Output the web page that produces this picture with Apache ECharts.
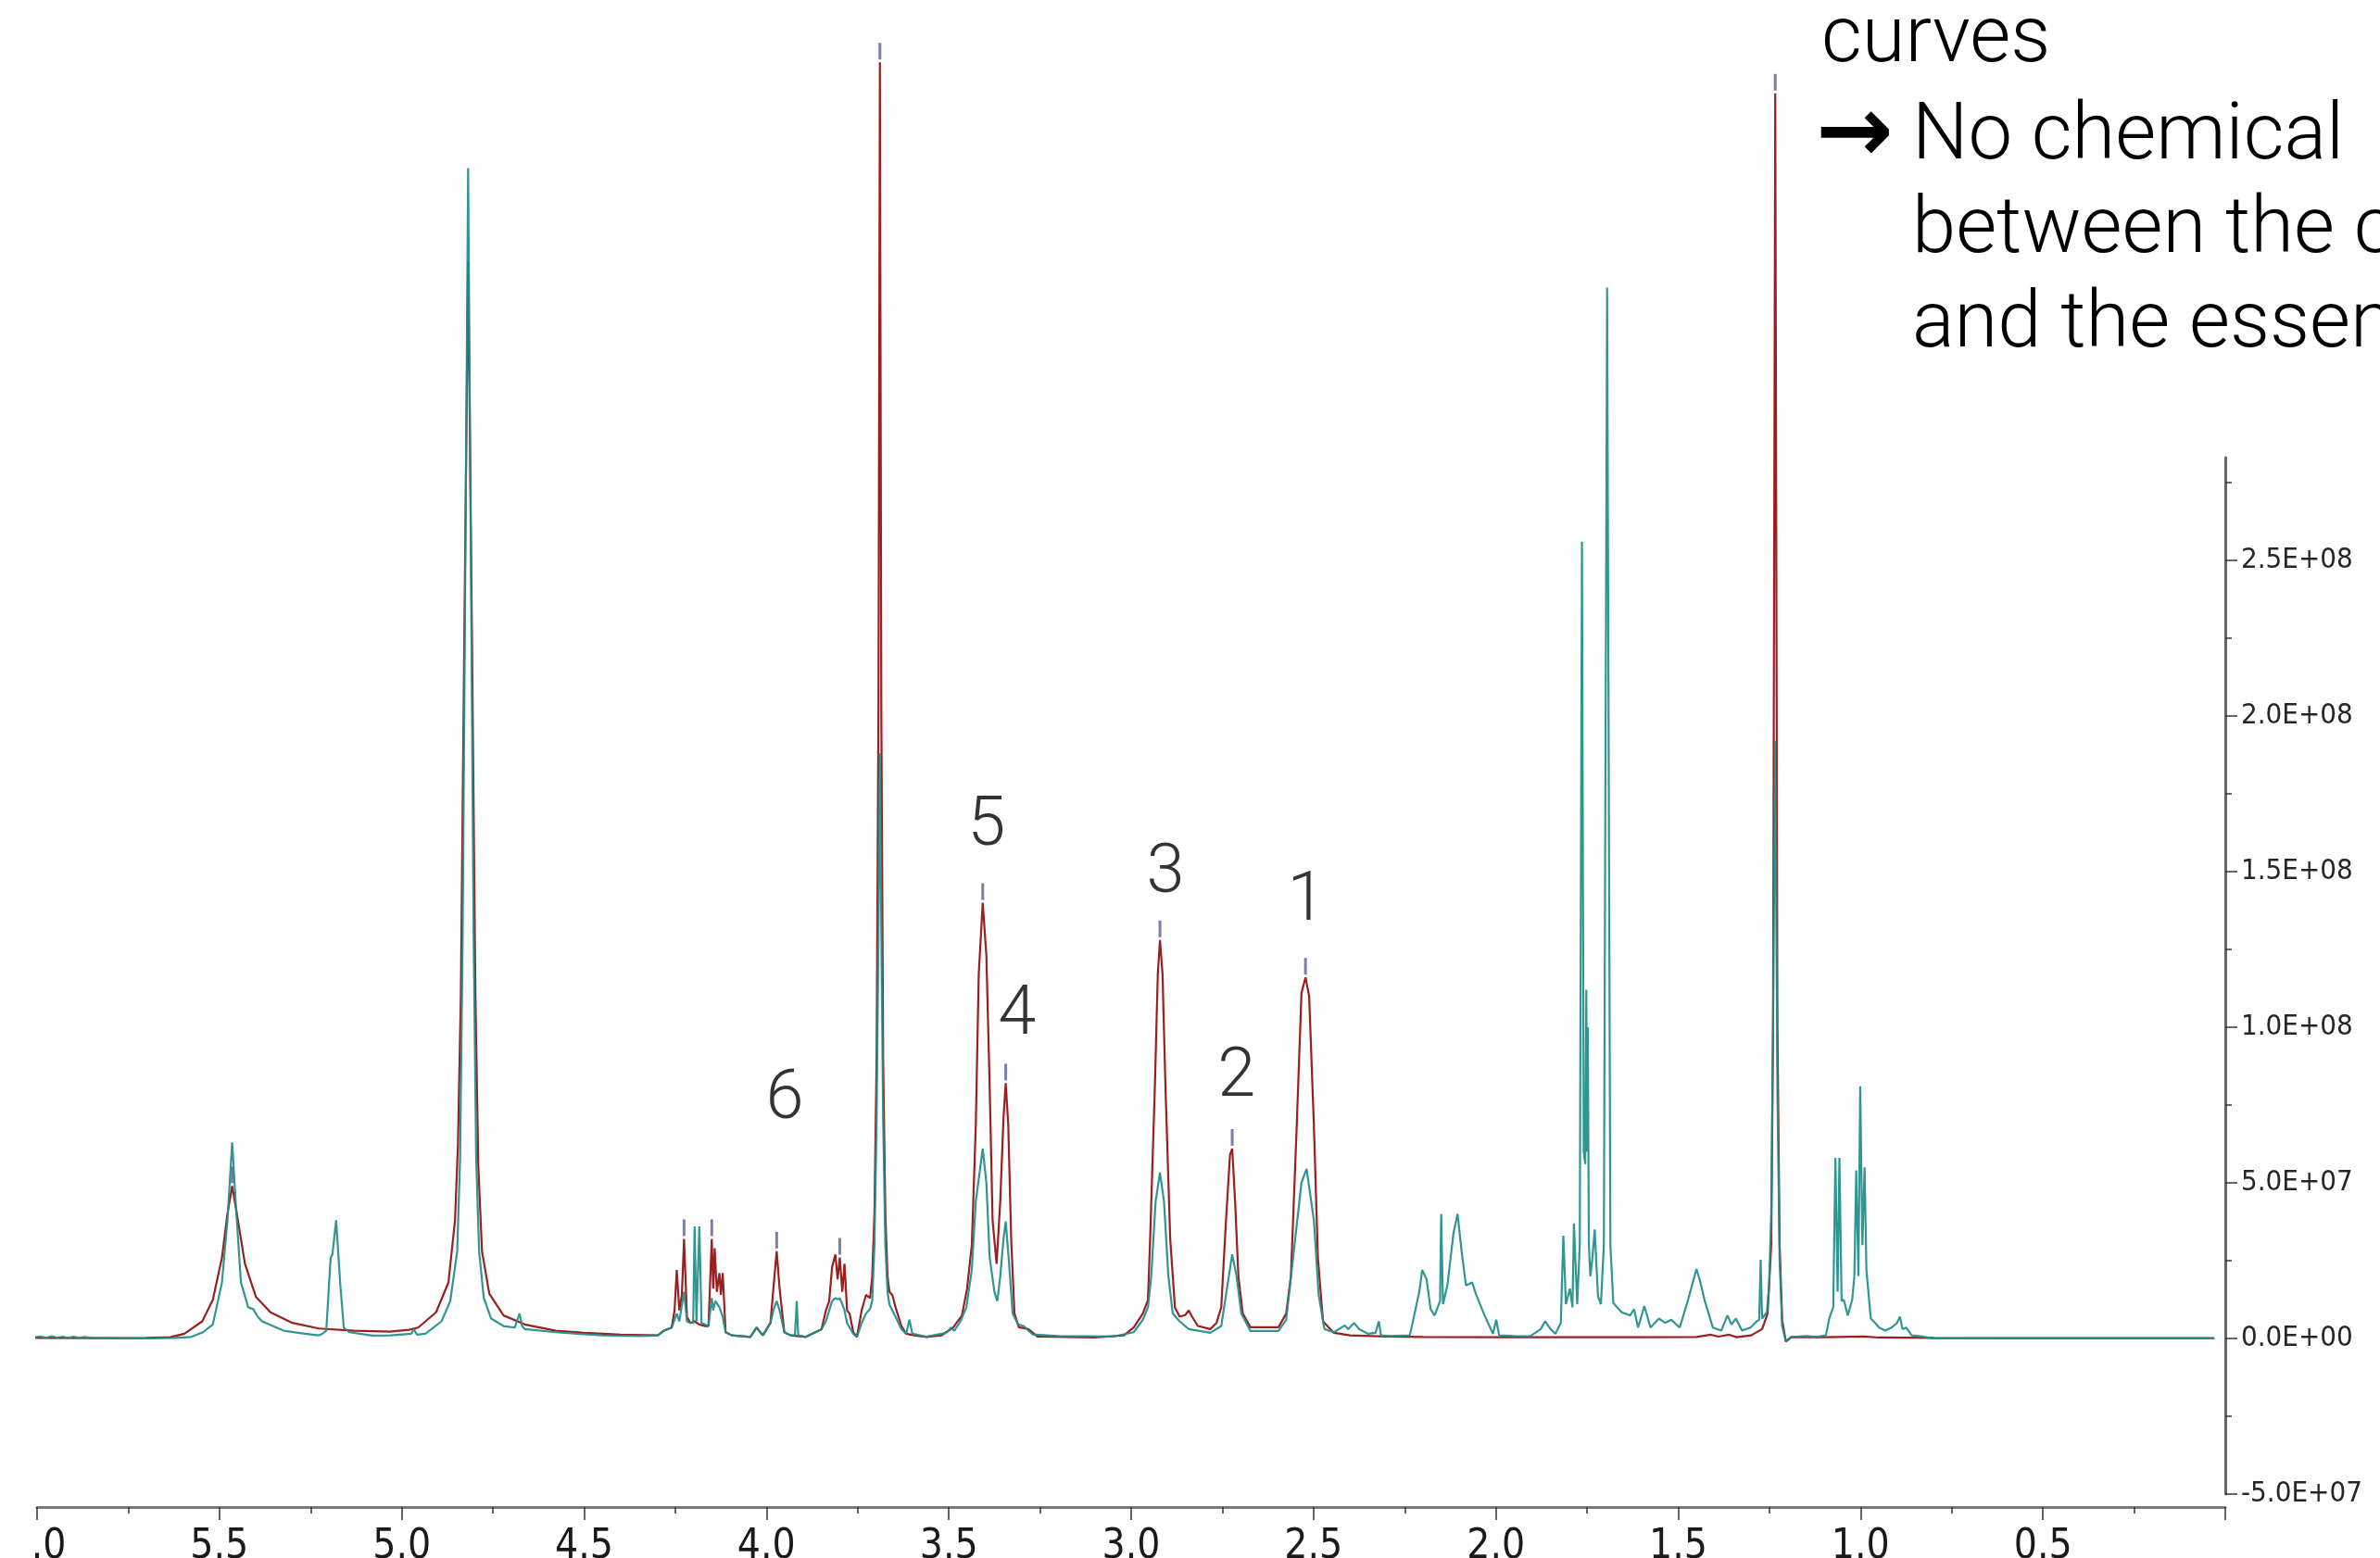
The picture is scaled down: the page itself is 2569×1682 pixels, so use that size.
<!DOCTYPE html>
<html><head><meta charset="utf-8">
<script src="https://cdn.jsdelivr.net/npm/echarts@6/dist/echarts.min.js"></script>
<style>html,body{margin:0;padding:0;background:#fff;}#c{width:2569px;height:1682px;}</style>
</head><body><div id="c"></div>
<script>
// values in units of 1e8, x in ppm
const redSpectrum = [
[6.01,0.002],[5.80,0.001],[5.70,0.002],[5.635,0.004],[5.596,0.015],[5.547,0.055],[5.518,0.124],[5.493,0.26],[5.478,0.40],[5.465,0.49],[5.452,0.40],[5.43,0.24],[5.40,0.134],[5.36,0.084],[5.30,0.05],[5.227,0.032],[5.13,0.025],[5.032,0.022],[4.98,0.028],[4.955,0.035],[4.906,0.084],[4.872,0.18],[4.854,0.38],[4.846,0.62],[4.838,1.1],[4.829,2.2],[4.818,3.46],[4.807,2.2],[4.798,1.1],[4.790,0.55],[4.780,0.28],[4.760,0.144],[4.721,0.074],[4.663,0.045],[4.578,0.025],[4.50,0.018],[4.40,0.012],[4.298,0.01],[4.281,0.025],[4.260,0.035],[4.252,0.09],[4.246,0.22],[4.239,0.09],[4.232,0.14],[4.226,0.32],[4.218,0.07],[4.209,0.05],[4.197,0.055],[4.184,0.045],[4.170,0.04],[4.159,0.04],[4.150,0.32],[4.146,0.16],[4.142,0.29],[4.136,0.15],[4.129,0.21],[4.125,0.14],[4.120,0.21],[4.112,0.02],[4.095,0.01],[4.044,0.005],[4.027,0.035],[4.010,0.01],[3.989,0.05],[3.981,0.16],[3.972,0.28],[3.964,0.16],[3.951,0.02],[3.934,0.01],[3.892,0.005],[3.849,0.03],[3.837,0.09],[3.828,0.12],[3.820,0.23],[3.811,0.27],[3.805,0.19],[3.799,0.26],[3.792,0.15],[3.786,0.24],[3.779,0.09],[3.772,0.08],[3.762,0.02],[3.752,0.005],[3.739,0.09],[3.727,0.14],[3.716,0.13],[3.710,0.20],[3.704,0.40],[3.698,0.9],[3.693,2.0],[3.689,4.10],[3.685,2.0],[3.680,0.9],[3.674,0.4],[3.668,0.2],[3.663,0.15],[3.655,0.14],[3.646,0.10],[3.638,0.07],[3.630,0.04],[3.617,0.015],[3.595,0.01],[3.562,0.005],[3.52,0.01],[3.488,0.035],[3.464,0.074],[3.450,0.16],[3.437,0.30],[3.426,0.685],[3.418,1.17],[3.407,1.40],[3.397,1.23],[3.388,0.81],[3.380,0.38],[3.369,0.24],[3.359,0.44],[3.350,0.71],[3.344,0.82],[3.337,0.685],[3.329,0.32],[3.320,0.08],[3.308,0.036],[3.282,0.03],[3.257,0.006],[3.10,0.003],[3.02,0.01],[2.993,0.035],[2.968,0.08],[2.954,0.124],[2.948,0.32],[2.935,0.81],[2.927,1.17],[2.921,1.28],[2.914,1.17],[2.906,0.81],[2.893,0.32],[2.880,0.10],[2.867,0.07],[2.852,0.075],[2.842,0.09],[2.833,0.07],[2.817,0.04],[2.783,0.03],[2.766,0.05],[2.753,0.10],[2.740,0.38],[2.729,0.59],[2.723,0.61],[2.715,0.44],[2.706,0.20],[2.694,0.08],[2.673,0.036],[2.596,0.036],[2.575,0.08],[2.562,0.20],[2.546,0.685],[2.533,1.11],[2.522,1.16],[2.512,1.10],[2.499,0.685],[2.488,0.26],[2.474,0.055],[2.444,0.018],[2.40,0.01],[2.30,0.006],[2.20,0.005],[2.00,0.004],[1.80,0.004],[1.60,0.004],[1.45,0.005],[1.41,0.012],[1.39,0.006],[1.36,0.012],[1.34,0.004],[1.30,0.01],[1.27,0.03],[1.255,0.08],[1.245,0.3],[1.240,1.0],[1.234,4.0],[1.228,1.0],[1.222,0.3],[1.215,0.06],[1.205,-0.01],[1.19,0.005],[1.10,0.004],[0.99,0.006],[0.95,0.003],[0.80,0.002],[0.50,0.001],[0.03,0.001]
];
const tealSpectrum = [
[6.01,0.003],[5.99,0.006],[5.975,0.002],[5.96,0.007],[5.945,0.003],[5.93,0.006],[5.915,0.002],[5.90,0.006],[5.885,0.002],[5.87,0.005],[5.85,0.002],[5.80,0.001],[5.70,0.0],[5.62,0.002],[5.577,0.005],[5.545,0.02],[5.518,0.045],[5.493,0.18],[5.478,0.38],[5.465,0.63],[5.455,0.43],[5.441,0.18],[5.421,0.10],[5.407,0.094],[5.395,0.07],[5.383,0.055],[5.324,0.025],[5.266,0.015],[5.227,0.01],[5.218,0.015],[5.207,0.025],[5.195,0.26],[5.190,0.27],[5.180,0.38],[5.169,0.18],[5.159,0.035],[5.144,0.02],[5.081,0.009],[5.03,0.01],[4.974,0.015],[4.967,0.03],[4.958,0.012],[4.935,0.015],[4.891,0.055],[4.867,0.12],[4.848,0.28],[4.840,0.58],[4.833,1.3],[4.825,2.6],[4.818,3.76],[4.811,2.6],[4.803,1.3],[4.796,0.58],[4.788,0.28],[4.775,0.13],[4.755,0.064],[4.721,0.04],[4.690,0.035],[4.677,0.08],[4.670,0.04],[4.663,0.03],[4.578,0.02],[4.52,0.015],[4.45,0.01],[4.35,0.008],[4.298,0.01],[4.281,0.025],[4.260,0.035],[4.252,0.06],[4.246,0.08],[4.239,0.055],[4.226,0.15],[4.218,0.055],[4.209,0.05],[4.201,0.05],[4.197,0.36],[4.192,0.055],[4.188,0.055],[4.184,0.36],[4.178,0.05],[4.159,0.04],[4.150,0.13],[4.146,0.09],[4.140,0.12],[4.129,0.10],[4.120,0.07],[4.112,0.02],[4.095,0.01],[4.044,0.005],[4.027,0.035],[4.010,0.01],[3.989,0.05],[3.981,0.09],[3.972,0.12],[3.964,0.09],[3.951,0.02],[3.934,0.01],[3.922,0.01],[3.917,0.12],[3.913,0.01],[3.892,0.005],[3.849,0.03],[3.837,0.055],[3.828,0.09],[3.820,0.12],[3.811,0.13],[3.805,0.125],[3.799,0.13],[3.792,0.11],[3.786,0.09],[3.779,0.05],[3.772,0.035],[3.762,0.015],[3.752,0.005],[3.739,0.05],[3.727,0.08],[3.716,0.095],[3.710,0.12],[3.704,0.30],[3.698,0.7],[3.693,1.3],[3.689,1.88],[3.685,1.3],[3.680,0.7],[3.674,0.3],[3.668,0.15],[3.663,0.11],[3.655,0.09],[3.646,0.07],[3.638,0.05],[3.630,0.03],[3.617,0.015],[3.608,0.06],[3.600,0.015],[3.595,0.01],[3.562,0.006],[3.52,0.015],[3.505,0.02],[3.494,0.035],[3.485,0.025],[3.468,0.055],[3.452,0.10],[3.437,0.22],[3.426,0.44],[3.407,0.61],[3.397,0.50],[3.388,0.26],[3.375,0.15],[3.367,0.12],[3.359,0.20],[3.350,0.32],[3.344,0.376],[3.336,0.26],[3.325,0.08],[3.310,0.045],[3.295,0.04],[3.270,0.013],[3.20,0.008],[3.05,0.006],[2.993,0.02],[2.968,0.06],[2.954,0.10],[2.945,0.20],[2.933,0.44],[2.921,0.533],[2.910,0.44],[2.898,0.20],[2.886,0.08],[2.867,0.055],[2.842,0.03],[2.783,0.018],[2.753,0.04],[2.740,0.14],[2.723,0.27],[2.711,0.20],[2.698,0.08],[2.673,0.024],[2.596,0.024],[2.575,0.06],[2.556,0.26],[2.533,0.50],[2.519,0.545],[2.499,0.38],[2.486,0.14],[2.470,0.03],[2.444,0.02],[2.414,0.042],[2.405,0.03],[2.389,0.05],[2.375,0.03],[2.35,0.015],[2.330,0.018],[2.321,0.055],[2.315,0.01],[2.293,0.008],[2.236,0.01],[2.224,0.074],[2.210,0.15],[2.202,0.22],[2.190,0.19],[2.179,0.094],[2.168,0.074],[2.153,0.12],[2.150,0.40],[2.145,0.11],[2.133,0.17],[2.116,0.34],[2.105,0.40],[2.094,0.28],[2.082,0.17],[2.065,0.18],[2.054,0.14],[2.031,0.074],[2.008,0.015],[1.999,0.06],[1.991,0.01],[1.95,0.008],[1.906,0.007],[1.877,0.03],[1.865,0.055],[1.850,0.03],[1.837,0.015],[1.822,0.05],[1.815,0.33],[1.808,0.11],[1.797,0.16],[1.790,0.10],[1.786,0.37],[1.777,0.11],[1.770,0.3],[1.764,2.56],[1.759,0.6],[1.755,0.56],[1.752,1.12],[1.750,0.6],[1.748,1.0],[1.745,0.3],[1.741,0.20],[1.736,0.25],[1.729,0.35],[1.720,0.135],[1.712,0.11],[1.704,0.3],[1.695,3.376],[1.686,0.3],[1.678,0.114],[1.655,0.084],[1.632,0.074],[1.621,0.094],[1.610,0.035],[1.593,0.104],[1.576,0.035],[1.553,0.064],[1.536,0.05],[1.519,0.06],[1.496,0.035],[1.473,0.124],[1.450,0.223],[1.439,0.18],[1.428,0.124],[1.405,0.035],[1.382,0.025],[1.365,0.074],[1.354,0.045],[1.342,0.064],[1.325,0.025],[1.302,0.035],[1.285,0.055],[1.278,0.06],[1.274,0.253],[1.270,0.064],[1.257,0.084],[1.251,0.164],[1.245,0.4],[1.240,1.0],[1.234,1.92],[1.228,0.8],[1.222,0.25],[1.215,0.04],[1.205,-0.01],[1.19,0.004],[1.15,0.008],[1.12,0.005],[1.095,0.01],[1.086,0.064],[1.075,0.1],[1.069,0.58],[1.063,0.15],[1.058,0.58],[1.052,0.12],[1.046,0.124],[1.035,0.074],[1.023,0.124],[1.017,0.2],[1.012,0.54],[1.006,0.2],[1.001,0.81],[0.995,0.3],[0.989,0.55],[0.984,0.22],[0.972,0.064],[0.960,0.05],[0.949,0.035],[0.932,0.025],[0.915,0.035],[0.900,0.05],[0.892,0.07],[0.885,0.03],[0.875,0.035],[0.86,0.01],[0.840,0.008],[0.824,0.005],[0.80,0.0],[0.50,0.0],[0.03,0.0]
];
const peakMarks = [[5.465,0.49],[4.226,0.32],[4.150,0.32],[3.972,0.28],[3.799,0.26],[3.689,4.10],[3.407,1.40],[3.344,0.82],[2.921,1.28],[2.723,0.61],[2.522,1.16],[1.234,4.0]];
const peakLabels = [[3.397,1.64,'5'],[3.313,1.035,'4'],[2.906,1.49,'3'],[2.711,0.835,'2'],[2.520,1.40,'1'],[3.950,0.762,'6']];
const yMajorTicks = [-0.5,0,0.5,1,1.5,2,2.5];
const yMinorTicks = [-0.25,0.25,0.75,1.25,1.75,2.25,2.75];
const noteLines = ['curves','No chemical','between the c','and the essen'];
const noteArrow = '\u2192';

function sci(v){
  const r = v*1e8;
  if (Math.abs(r) < 1) return '0.0E+00';
  const s = r < 0 ? '-' : '';
  const a = Math.abs(r);
  let e = Math.floor(Math.log10(a) + 1e-9);
  let ms = (a/Math.pow(10,e)).toFixed(1);
  if (ms === '10.0') { e += 1; ms = '1.0'; }
  return s + ms + 'E' + (e >= 0 ? '+' : '-') + String(Math.abs(e)).padStart(2,'0');
}

const chart = echarts.init(document.getElementById('c'), null, {renderer:'canvas', width:2569, height:1682});
const noteFont = '300 85px Roboto, "Open Sans", sans-serif';
const narrow = '"Liberation Sans Narrow", "DejaVu Sans Condensed", sans-serif';
chart.setOption({
  animation:false,
  backgroundColor:'#ffffff',
  grid:{left:40, right:167, top:494, bottom:69, containLabel:false, outerBoundsMode:'none'},
  xAxis:{
    type:'value', min:0, max:6, interval:0.5, inverse:true, position:'bottom', offset:14,
    axisLine:{show:true, onZero:false, lineStyle:{color:'#7a7a7a', width:3}},
    axisTick:{show:true, inside:false, length:14, lineStyle:{color:'#333', width:1.5}},
    minorTick:{show:true, splitNumber:2, length:7, lineStyle:{color:'#333', width:1.5}},
    splitLine:{show:false},
    axisLabel:{show:true, showMinLabel:false, margin:22, color:'#1a1a1a', fontSize:44, fontFamily:narrow, formatter:v=>v.toFixed(1)}
  },
  yAxis:[{
    type:'value', min:-0.5, max:2.83, position:'right',
    axisLine:{show:true, onZero:false, lineStyle:{color:'#666', width:3}},
    axisTick:{show:true, inside:false, length:13, customValues:yMajorTicks, lineStyle:{color:'#333', width:1.5}},
    axisLabel:{show:true, customValues:yMajorTicks, margin:17, color:'#262626', fontSize:31, fontFamily:'"DejaVu Sans Condensed", "DejaVu Sans", sans-serif', formatter:sci},
    splitLine:{show:false}
  },{
    type:'value', min:-0.5, max:2.83, position:'right',
    axisLine:{show:false},
    axisTick:{show:true, inside:false, length:7, customValues:yMinorTicks, lineStyle:{color:'#333', width:1.5}},
    axisLabel:{show:false},
    splitLine:{show:false}
  }],
  series:[
    {name:'red', type:'line', data:redSpectrum, showSymbol:false, symbol:'none', clip:false, z:2,
      lineStyle:{color:'#9a1f1f', width:2.2}},
    {name:'teal', type:'line', data:tealSpectrum, showSymbol:false, symbol:'none', clip:false, z:3,
      lineStyle:{color:'#1f8c8a', width:2.2, opacity:0.92}},
    {name:'marks', type:'scatter', data:peakMarks, clip:false, z:4, symbol:'rect', symbolSize:[3,18], symbolOffset:[0,-12],
      itemStyle:{color:'#5c5e96'}},
    {name:'labels', type:'scatter', data:peakLabels, clip:false, z:5, symbolSize:1,
      itemStyle:{color:'rgba(0,0,0,0)'},
      label:{show:true, position:'inside', formatter:p=>p.data[2], color:'#000', fontSize:74, fontWeight:300, fontFamily:'Roboto, "Open Sans", sans-serif'}}
  ],
  graphic:[
    {type:'rect', shape:{x:0, y:1642, width:37, height:40}, style:{fill:'#ffffff'}, z:100},
    {type:'text', x:1966, y:45, style:{text:noteLines[0], font:noteFont, fill:'#000', align:'left', verticalAlign:'middle'}, z:100},
    {type:'text', x:1960, y:148, style:{text:noteArrow, font:'bold 100px "DejaVu Sans", sans-serif', fill:'#000', align:'left', verticalAlign:'middle'}, z:100},
    {type:'text', x:2064, y:150, style:{text:noteLines[1], font:noteFont, fill:'#000', align:'left', verticalAlign:'middle'}, z:100},
    {type:'text', x:2064, y:251, style:{text:noteLines[2], font:noteFont, fill:'#000', align:'left', verticalAlign:'middle'}, z:100},
    {type:'text', x:2064, y:353, style:{text:noteLines[3], font:noteFont, fill:'#000', align:'left', verticalAlign:'middle'}, z:100}
  ]
});
</script>
</body></html>
